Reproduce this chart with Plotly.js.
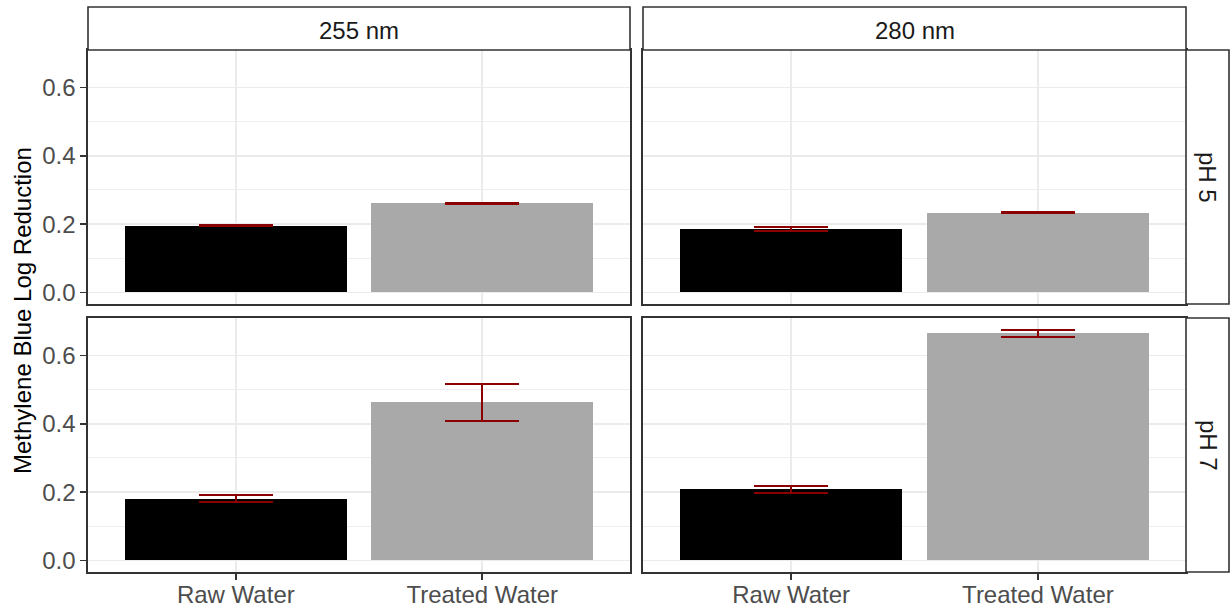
<!DOCTYPE html>
<html>
<head>
<meta charset="utf-8">
<script src="https://cdn.plot.ly/plotly-3.0.1.min.js"></script>
<style>
  html, body { margin: 0; padding: 0; background: #ffffff; }
  #chart { width: 1231px; height: 611px; }
</style>
</head>
<body>
<div id="chart"></div>
<script>
// Water types on the x axis of every panel
const waterTypes = ['Raw Water', 'Treated Water'];
// Facet labels: wavelength columns, pH rows
const wavelengths = ['255 nm', '280 nm'];
const phLevels = ['pH 5', 'pH 7'];

// Mean log reduction and standard error, per panel (Raw, Treated)
const meanPH5nm255 = [0.196, 0.261];
const sePH5nm255 = [0.001, 0.002];
const meanPH5nm280 = [0.187, 0.234];
const sePH5nm280 = [0.006, 0.002];
const meanPH7nm255 = [0.181, 0.463];
const sePH7nm255 = [0.0095, 0.054];
const meanPH7nm280 = [0.208, 0.665];
const sePH7nm280 = [0.010, 0.010];

const yTickVals = [0.0, 0.2, 0.4, 0.6];
const yTickText = ['0.0', '0.2', '0.4', '0.6'];

const W = 1231, H = 611;
const px = v => v / W;
const py = v => 1 - v / H;

const barColors = ['#000000', '#A9A9A9'];
const errColor = '#8B0000';
const border = '#333333';
const grid = '#EBEBEB';
const fontFam = '"Liberation Sans", Arial, sans-serif';
const fontSize = 24;

// Panel boxes in page pixels
const colX = [[88, 630], [643, 1186]];
const rowY = [[50, 304], [318, 572]];

function barTrace(means, ses, xa, ya) {
  return {
    type: 'bar',
    x: waterTypes,
    y: means,
    width: 0.9,
    xaxis: xa,
    yaxis: ya,
    marker: { color: barColors, line: { width: 0 } },
    error_y: { type: 'data', array: ses, visible: true, color: errColor, thickness: 2, width: 37 },
    hoverinfo: 'x+y',
    showlegend: false
  };
}

const data = [
  barTrace(meanPH5nm255, sePH5nm255, 'x', 'y'),
  barTrace(meanPH5nm280, sePH5nm280, 'x2', 'y2'),
  barTrace(meanPH7nm255, sePH7nm255, 'x3', 'y3'),
  barTrace(meanPH7nm280, sePH7nm280, 'x4', 'y4')
];

const yRange = [-0.0338, 0.7098];

function xAxis(col, anchor, bottom) {
  return {
    domain: [px(colX[col][0]), px(colX[col][1])],
    anchor: anchor,
    type: 'category',
    range: [-0.6, 1.6],
    showgrid: true, gridcolor: grid, gridwidth: 1.5,
    zeroline: false,
    showline: true, mirror: true, linecolor: border, linewidth: 1.6,
    ticks: bottom ? 'outside' : '', ticklen: 6, tickwidth: 1.5, tickcolor: border,
    showticklabels: bottom,
    ticklabelstandoff: -5,
    tickfont: { family: fontFam, size: fontSize, color: '#4D4D4D' },
    fixedrange: true
  };
}

function yAxis(row, anchor, left) {
  return {
    domain: [py(rowY[row][1]), py(rowY[row][0])],
    anchor: anchor,
    range: yRange,
    tickmode: 'array', tickvals: yTickVals, ticktext: yTickText,
    showgrid: true, gridcolor: grid, gridwidth: 1.5,
    minor: { tickmode: 'array', tickvals: [0.1, 0.3, 0.5], showgrid: true, gridcolor: grid, gridwidth: 0.8, ticks: '' },
    zeroline: false,
    showline: true, mirror: true, linecolor: border, linewidth: 1.6,
    ticks: left ? 'outside' : '', ticklen: 6, tickwidth: 1.5, tickcolor: border,
    showticklabels: left,
    tickfont: { family: fontFam, size: fontSize, color: '#4D4D4D' },
    fixedrange: true
  };
}

const shapes = [];
const annotations = [];

// Column strips across the top
wavelengths.forEach((lab, i) => {
  shapes.push({
    type: 'rect', xref: 'paper', yref: 'paper',
    x0: px(colX[i][0]), x1: px(colX[i][1]), y0: py(50), y1: py(7),
    fillcolor: '#ffffff', line: { color: border, width: 1.6 }
  });
  annotations.push({
    xref: 'paper', yref: 'paper',
    x: px((colX[i][0] + colX[i][1]) / 2), y: py(30),
    text: lab, showarrow: false, xanchor: 'center', yanchor: 'middle',
    font: { family: fontFam, size: fontSize, color: '#1A1A1A' }
  });
});

// Row strips down the right side
phLevels.forEach((lab, j) => {
  shapes.push({
    type: 'rect', xref: 'paper', yref: 'paper',
    x0: px(1186), x1: px(1229), y0: py(rowY[j][1]), y1: py(rowY[j][0]),
    fillcolor: '#ffffff', line: { color: border, width: 1.6 }
  });
  annotations.push({
    xref: 'paper', yref: 'paper',
    x: px(1208), y: py((rowY[j][0] + rowY[j][1]) / 2),
    text: lab, showarrow: false, textangle: 90, xanchor: 'center', yanchor: 'middle',
    font: { family: fontFam, size: fontSize, color: '#1A1A1A' }
  });
});

// Shared y axis title
annotations.push({
  xref: 'paper', yref: 'paper',
  x: px(22), y: py(311),
  text: 'Methylene Blue Log Reduction', showarrow: false, textangle: -90,
  xanchor: 'center', yanchor: 'middle',
  font: { family: fontFam, size: fontSize, color: '#000000' }
});

const layout = {
  width: W, height: H,
  margin: { l: 0, r: 0, t: 0, b: 0 },
  paper_bgcolor: '#ffffff', plot_bgcolor: '#ffffff',
  showlegend: false,
  bargap: 0,
  xaxis: xAxis(0, 'y', false),
  xaxis2: xAxis(1, 'y2', false),
  xaxis3: xAxis(0, 'y3', true),
  xaxis4: xAxis(1, 'y4', true),
  yaxis: yAxis(0, 'x', true),
  yaxis2: yAxis(0, 'x2', false),
  yaxis3: yAxis(1, 'x3', true),
  yaxis4: yAxis(1, 'x4', false),
  shapes: shapes,
  annotations: annotations
};

Plotly.newPlot('chart', data, layout, { displayModeBar: false, staticPlot: true });
</script>
</body>
</html>
